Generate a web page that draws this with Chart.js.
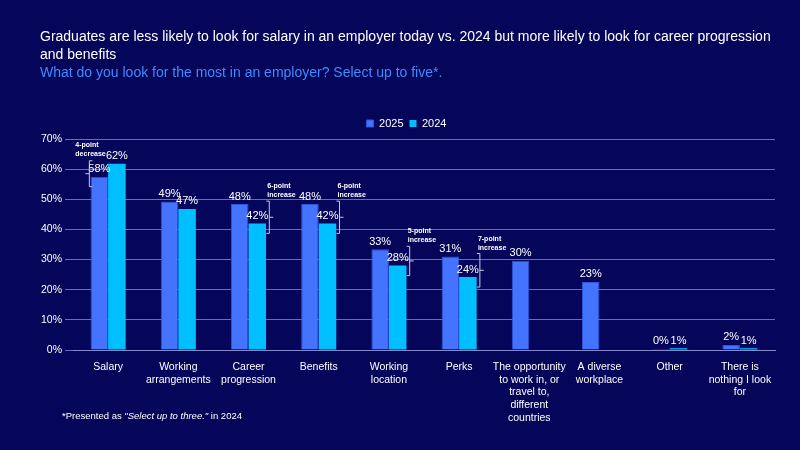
<!DOCTYPE html>
<html><head><meta charset="utf-8">
<script src="https://cdn.jsdelivr.net/npm/chart.js@4"></script>
<style>
body{margin:0;background:#05055a;font-family:Arial,"Liberation Sans",sans-serif;}
#wrap{position:relative;width:800px;height:450px;}
#t{position:absolute;left:40px;top:27px;width:740px;color:#fff;font-size:14px;line-height:18px;}
#s{color:#3d8bff;font-size:14px;}
#f{position:absolute;left:62px;top:410px;color:#fff;font-size:9.5px;}
canvas{position:absolute;left:0;top:0;}
</style></head><body>
<div id="wrap">
<canvas id="c" width="800" height="450"></canvas>
<div id="t">Graduates are less likely to look for salary in an employer today vs. 2024 but more likely to look for career progression and benefits<div id="s">What do you look for the most in an employer? Select up to five*.</div></div>
<div id="f">*Presented as <i>"Select up to three."</i> in 2024</div>
</div>
<script>
const categories=[["Salary"],["Working","arrangements"],["Career","progression"],["Benefits"],["Working","location"],["Perks"],["The opportunity","to work in, or","travel to,","different","countries"],["A diverse","workplace"],["Other"],["There is","nothing I look","for"]];
const values2025=[57.5,49.3,48.4,48.4,33.4,31,29.6,22.6,0.4,1.7];
const values2024=[61.8,46.8,42,42,28,24.2,null,null,0.6,0.6];
const labels2025=["58%","49%","48%","48%","33%","31%","30%","23%","0%","2%"];
const labels2024=["62%","47%","42%","42%","28%","24%","","","1%","1%"];
const notes=[{i:0,text:["4-point","decrease"],side:"left"},{i:2,text:["6-point","increase"]},{i:3,text:["6-point","increase"]},{i:4,text:["5-point","increase"]},{i:5,text:["7-point","increase"]}];
const yTicks=[0,10,20,30,40,50,60,70];

const plug={id:'p',afterDatasetsDraw(ch){
 const ctx=ch.ctx,y=ch.scales.y;
 const m0=ch.getDatasetMeta(0).data,m1=ch.getDatasetMeta(1).data;
 ctx.save();ctx.fillStyle='#fff';ctx.textAlign='center';ctx.textBaseline='bottom';ctx.font='11px Arial';
 m0.forEach((b,i)=>{ctx.fillText(labels2025[i],b.x,b.y-2);});
 m1.forEach((b,i)=>{if(labels2024[i])ctx.fillText(labels2024[i],b.x,b.y-2);});
 ctx.strokeStyle='#c8c8e8';ctx.lineWidth=1;
 notes.forEach(n=>{
  const a=y.getPixelForValue(values2025[n.i]),c=y.getPixelForValue(values2024[n.i]);
  const top=Math.min(a,c)-3,bot=Math.max(a,c)+10;
  ctx.font='bold 7px Arial';ctx.textAlign='left';ctx.textBaseline='alphabetic';
  if(n.side==='left'){
   const x=m0[n.i].x-10;
   ctx.beginPath();ctx.moveTo(x+3,top);ctx.lineTo(x,top);ctx.lineTo(x,bot);ctx.lineTo(x+3,bot);ctx.moveTo(x,(top+bot)/2);ctx.lineTo(x-4,(top+bot)/2);ctx.stroke();
   ctx.fillText(n.text[0],x-14,top-14);ctx.fillText(n.text[1],x-14,top-5);
  }else{
   const x=m1[n.i].x+12;
   ctx.beginPath();ctx.moveTo(x-3,top);ctx.lineTo(x,top);ctx.lineTo(x,bot);ctx.lineTo(x-3,bot);ctx.moveTo(x,(top+bot)/2);ctx.lineTo(x+4,(top+bot)/2);ctx.stroke();
   ctx.fillText(n.text[0],x-2,top-13);ctx.fillText(n.text[1],x-2,top-4);
  }
 });
 ctx.restore();
}};
new Chart(document.getElementById('c'),{type:'bar',
 data:{labels:categories,datasets:[
  {label:'2025',data:values2025,backgroundColor:'#4473ff',borderColor:'#2c56d8',borderWidth:1,categoryPercentage:0.5,barPercentage:1},
  {label:'2024',data:values2024,backgroundColor:'#00bfff',categoryPercentage:0.5,barPercentage:1}]},
 options:{responsive:false,animation:false,
  layout:{padding:{top:112,right:25,left:38,bottom:23}},
  plugins:{legend:{labels:{color:'#fff',boxWidth:7,boxHeight:7,font:{size:11},padding:6}},tooltip:{enabled:false}},
  scales:{x:{grid:{display:false},border:{color:'#8888cc'},ticks:{color:'#fff',font:{size:10.5},maxRotation:0,autoSkip:false}},
   y:{min:0,max:70,afterBuildTicks:s=>{s.ticks=yTicks.map(v=>({value:v}));},grid:{color:'#6a6ac0'},border:{display:false},ticks:{color:'#fff',font:{size:10.5},callback:v=>v+'%'}}}}
 ,plugins:[plug]});
</script></body></html>
